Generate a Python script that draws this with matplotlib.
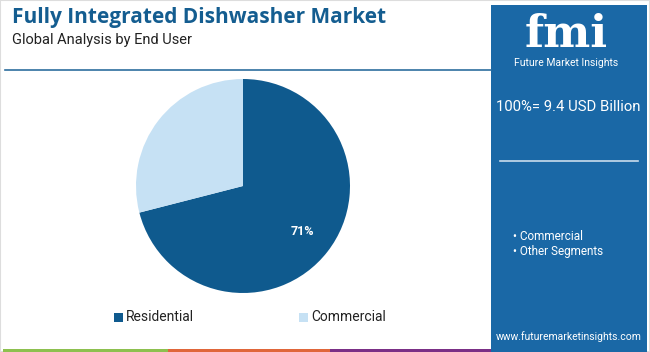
import matplotlib
matplotlib.use("Agg")
import matplotlib.pyplot as plt
from matplotlib.patches import Rectangle

# data
segments = ["Residential", "Commercial"]
shares = [71, 29]
colors = ["#0f5a8e", "#c6e1f4"]
total_label = "100%= 9.4 USD Billion"
panel_items = ["Commercial", "Other Segments"]

W, H = 650, 352
plt.rcParams['font.family'] = ['Roboto', 'DejaVu Sans']

fig = plt.figure(figsize=(W / 100, H / 100), dpi=100)
fig.patch.set_facecolor("white")


def fx(x):
    return x / W


def fy(y):
    return 1 - y / H


# frame + header
fig.add_artist(Rectangle((0, 0), 1, 1, transform=fig.transFigure, fill=False,
                         edgecolor="#dddddd", lw=1.5))
fig.text(fx(12), fy(18), "Fully Integrated Dishwasher Market", fontsize=15,
         fontweight="bold", family="Open Sans", color="#145d90", va="center", ha="left")
fig.text(fx(12), fy(40), "Global Analysis by End User", fontsize=10.5,
         color="#222222", va="center", ha="left")
fig.add_artist(plt.Line2D([fx(5), fx(491)], [fy(70), fy(70)], transform=fig.transFigure,
                          color="#2e6e9e", lw=1.2))

# bottom stripes
for x0, x1, c in [(3, 168, "#8dc04f"), (168, 330, "#e0663a"), (330, 493, "#7b2f86")]:
    fig.add_artist(Rectangle((fx(x0), 0), fx(x1 - x0), 3.5 / H, transform=fig.transFigure,
                             color=c, lw=0))

# right panel
fig.add_artist(Rectangle((fx(491), 0), fx(647 - 491), (H - 5) / H, transform=fig.transFigure,
                         color="#1a68a6", lw=0))
fig.text(fx(566), fy(47), "fmi", fontsize=32, fontweight="bold", family="DejaVu Serif",
         color="white", ha="center", va="baseline")
fig.text(fx(566), fy(63), "Future Market Insights", fontsize=7.5, color="white",
         ha="center", va="center")
fig.text(fx(568), fy(107), total_label, fontsize=10.7, color="white", ha="center", va="center")
fig.add_artist(plt.Line2D([fx(500), fx(638)], [fy(161), fy(161)], transform=fig.transFigure,
                          color="#c9dcec", lw=1.2))
for i, item in enumerate(panel_items):
    fig.text(fx(513), fy(236 + 16 * i), "\u2022 " + item, fontsize=8.5, color="white",
             ha="left", va="center")
fig.text(fx(569), fy(337), "www.futuremarketinsights.com", fontsize=7.5, color="white",
         ha="center", va="center")

# pie
ax = fig.add_axes([fx(136), fy(293), fx(214), 214 / H])
wedges, _, autotexts = ax.pie(shares, colors=colors, startangle=90, counterclock=False,
                              autopct="%d%%", pctdistance=0.7,
                              textprops=dict(color="white", fontsize=9, fontweight="bold"))
autotexts[1].set_visible(False)
ax.set_xlim(-1, 1)
ax.set_ylim(-1, 1)
ax.set_aspect("equal")
ax.axis("off")

# legend
for (x, name, c) in [(118, segments[0], colors[0]), (303, segments[1], colors[1])]:
    fig.add_artist(Rectangle((fx(x - 4), fy(322)), fx(9), 9 / H, transform=fig.transFigure,
                             color=c, lw=0))
    fig.text(fx(x + 8), fy(317), name, fontsize=10, color="#222222", ha="left", va="center")

fig.savefig("out.png", dpi=100)
